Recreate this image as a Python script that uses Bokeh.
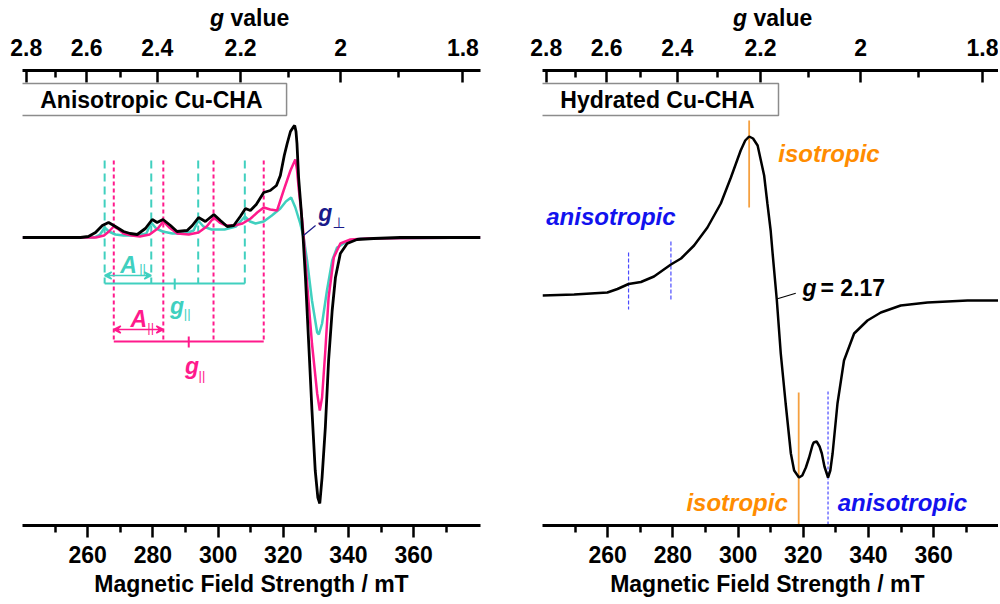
from bokeh.plotting import figure
from bokeh.models import (Range1d, LinearAxis, FixedTicker, CustomJSTickFormatter,
                          Label, Arrow, VeeHead, Div)
from bokeh.layouts import row, column
from bokeh.embed import file_html
from bokeh.resources import INLINE

FONT = "Liberation Sans"

# ---------------- data ----------------
freq_GHz = 9.45
g_const = 71.4477            # g * B[mT] = 71.4477 * nu[GHz]
hv_mT = g_const * freq_GHz

field_major = [260, 280, 300, 320, 340, 360]
field_minor = [250, 270, 290, 310, 330, 350, 370]
g_major = [2.8, 2.6, 2.4, 2.2, 2.0, 1.8]
g_minor = [2.7, 2.5, 2.3, 2.1, 1.9]

# Anisotropic Cu-CHA: experimental (black), simulated components (pink, teal)
black_B = [240, 257.8, 260.2, 262.4, 264.5, 266.4, 268.5, 271.0, 273.0, 275.2, 277.7, 279.8, 281.3,
           283.1, 285.4, 287.4, 290.5, 292.1, 294.0, 296.1, 298.7, 300.7, 302.8, 304.8, 306.8, 308.4,
           309.9, 311.7, 314.0, 316.0, 317.9, 319.1, 320.3, 321.2, 322.2, 323.0, 323.5, 323.9, 324.2,
           324.7, 325.5, 326.1, 326.8, 327.8, 328.8, 329.8, 330.6, 331.2, 331.9, 332.9, 333.9, 335.0,
           336.0, 337.5, 339.6, 342.6, 347.7, 355.9, 380.5]
black_I = [0, 0, 1, 5, 12, 15, 11, 6, 4, 3, 9, 18, 15,
           18, 12, 6, 7, 12, 20, 16, 23, 17, 11, 12, 21, 29,
           27, 33, 45, 47, 52, 62, 82, 94, 106, 110, 112, 106, 94,
           60, 27, -1, -40, -106, -173, -233, -260, -266, -240, -190, -123, -73,
           -40, -16, -6, -2, -1, 0, 0]

pink_B = [240, 262.5, 265.0, 266.5, 268.0, 269.5, 271.0, 273.5, 276.0, 279.0, 281.5, 283.2, 285.0,
          287.5, 291.0, 294.0, 296.5, 298.7, 300.5, 302.5, 305.0, 307.5, 310.0, 312.0, 314.0, 316.0,
          318.1, 320.1, 322.2, 323.0, 323.7, 324.2, 324.7, 325.8, 326.3, 327.3, 328.8, 330.4, 331.2,
          331.9, 332.9, 333.9, 335.5, 337.5, 340.6, 345.7, 380.5]
pink_I = [0, 0, 2, 6, 11, 8, 4, 2, 1, 3, 9, 16, 10,
          4, 3, 5, 11, 20, 15, 12, 12, 14, 19, 25, 30, 28,
          27, 47, 67, 73, 78, 68, 50, 17, -1, -46, -106, -156, -173,
          -160, -113, -60, -20, -6, -2, -1, 0]

teal_B = [240, 262.0, 263.8, 265.2, 266.5, 268.5, 271.0, 275.0, 278.0, 279.5, 281.0, 283.0, 286.0,
          290.0, 292.5, 293.9, 295.5, 298.0, 302.0, 305.5, 308.2, 309.8, 311.5, 314.0, 316.5, 319.1,
          320.8, 322.4, 323.7, 325.2, 326.3, 327.3, 328.8, 330.4, 330.9, 331.9, 333.4, 335.0, 336.5,
          339.6, 343.7, 380.5]
teal_I = [0, 0, 3, 10, 6, 3, 2, 2, 4, 15, 9, 6, 4,
          4, 7, 17, 11, 8, 8, 11, 21, 16, 14, 16, 22, 29,
          36, 40, 30, 14, -1, -23, -63, -95, -97, -86, -53, -23, -10,
          -4, -1, 0]

# hyperfine line positions (mT)
teal_lines = [265.2, 279.5, 293.9, 308.2]
pink_lines = [268.0, 283.2, 298.6, 314.0]

# Hydrated Cu-CHA
hyd_B = [240.0, 249.7, 259.9, 263.0, 266.4, 270.2, 274.2, 279.4, 282.5, 286.5,
         290.6, 294.7, 297.8, 300.8, 302.2, 303.4, 304.6, 306.0, 307.0, 308.0,
         309.0, 310.0, 310.6, 311.9, 313.1, 314.6, 316.2, 317.2, 318.7, 319.7,
         320.8, 321.8, 322.8, 323.2, 324.1, 325.0, 325.7, 326.5, 327.6, 328.3,
         329.0, 330.5, 332.5, 335.6, 339.7, 343.8, 349.9, 358.1, 370.4, 380.5]
hyd_I = [5, 6, 8, 11.5, 16.5, 18.5, 24, 36, 42, 55,
         73, 97, 123, 150, 160, 164, 162, 155, 140, 125,
         97, 70, 47, 0, -53, -103, -153, -170, -177, -175,
         -167, -157, -145, -142, -141, -146, -153, -166, -177, -170,
         -153, -103, -60, -33, -20, -12, -5, -2, 0, 0]

iso_fields = [303.4, 318.6]
aniso_fields = [266.4, 279.4, 327.6]

# ---------------- style ----------------
BLACK = "#000000"
PINK = "#ff1a8c"
TEAL = "#40d0bf"
NAVY = "#1a1a8a"
BLUE = "#1212ee"
BLUE_LINE = "#4a4aff"
ORANGE = "#ff8c00"
ORANGE_LINE = "#f5a040"


def style_axis(ax, top):
    ax.axis_line_width = 3
    ax.axis_line_color = "black"
    ax.major_tick_line_width = 2.5
    ax.minor_tick_line_width = 2.5
    ax.major_tick_line_color = "black"
    ax.minor_tick_line_color = "black"
    ax.major_label_text_font = FONT
    ax.major_label_text_font_size = "23px"
    ax.major_label_text_font_style = "bold"
    ax.major_label_text_color = "black"
    ax.axis_label_text_font = FONT
    ax.axis_label_text_font_size = "23px"
    ax.axis_label_text_font_style = "bold"
    ax.axis_label_text_color = "black"
    if top:
        ax.major_tick_in, ax.major_tick_out = 12, 0
        ax.minor_tick_in, ax.minor_tick_out = 7, 0
        ax.major_label_standoff = 15
    else:
        ax.major_tick_in, ax.major_tick_out = 0, 12
        ax.minor_tick_in, ax.minor_tick_out = 0, 7
        ax.major_label_standoff = 8
        ax.axis_label_standoff = 5


def txt(p, x, y, s, color="black", size="23px", style="bold", align="left",
        baseline="alphabetic", font=FONT, **kw):
    p.add_layout(Label(x=x, y=y, text=s, text_color=color, text_font_size=size,
                       text_font_style=style, text_align=align, text_baseline=baseline,
                       text_font=font, **kw))


HEAD_H = 30


def make_fig(width, bl, br, x1, y0, y1, xlabel):
    p = figure(width=width, height=604 - HEAD_H, x_range=Range1d(240, x1), y_range=Range1d(y0, y1),
               output_backend="svg", toolbar_location=None, y_axis_type=None,
               min_border_left=bl, min_border_right=br, min_border_top=70 - HEAD_H,
               min_border_bottom=79)
    p.grid.visible = False
    p.outline_line_color = None
    p.background_fill_color = "white"
    p.border_fill_color = None
    bx = p.xaxis[0]
    bx.ticker = FixedTicker(ticks=field_major, minor_ticks=field_minor)
    bx.axis_label = xlabel
    style_axis(bx, top=False)
    tx = LinearAxis(ticker=FixedTicker(ticks=[hv_mT / g for g in g_major],
                                       minor_ticks=[hv_mT / g for g in g_minor]),
                    formatter=CustomJSTickFormatter(args=dict(hv=hv_mT),
                                                    code="return String(Math.round(hv / tick * 10) / 10);"))
    style_axis(tx, top=True)
    p.add_layout(tx, "above")
    return p


def header(width, left):
    html = ('<div style="font-family:\'Liberation Sans\',Arial,sans-serif;font-weight:bold;'
            'font-size:23px;line-height:26px;color:black;white-space:nowrap;'
            'padding-top:5px;padding-left:%dpx;"><i>g</i> value</div>' % left)
    return Div(text=html, width=width, height=HEAD_H, margin=0)


def box_label(p, x, y, s):
    p.add_layout(Label(x=x, y=y, text=s, text_font=FONT, text_font_size="23px",
                       text_font_style="bold", text_align="center", text_baseline="middle",
                       text_color="black",
                       background_fill_color="white", border_line_color="#8c8c8c",
                       border_line_width=1.5,
                       padding=dict(left=23, right=24, top=3, bottom=3)))


# ---------------- left panel ----------------
p1 = make_fig(500, 22, 20, 380.5, -288, 167, "Magnetic Field Strength / mT")

# hyperfine markers
p1.segment(x0=teal_lines, y0=[77] * 4, x1=teal_lines, y1=[-46] * 4,
           line_color=TEAL, line_width=2, line_dash="8 5")
p1.segment(x0=pink_lines, y0=[77] * 4, x1=pink_lines, y1=[-104] * 4,
           line_color=PINK, line_width=2, line_dash="4 3")
p1.segment(x0=[teal_lines[0]], y0=[-46], x1=[teal_lines[-1]], y1=[-46], line_color=TEAL, line_width=2)
tc = (teal_lines[0] + teal_lines[-1]) / 2
p1.segment(x0=[tc], y0=[-41], x1=[tc], y1=[-52], line_color=TEAL, line_width=2)
p1.segment(x0=[pink_lines[0]], y0=[-104], x1=[pink_lines[-1]], y1=[-104], line_color=PINK, line_width=2)
pc = (pink_lines[0] + pink_lines[-1]) / 2
p1.segment(x0=[pc], y0=[-99], x1=[pc], y1=[-110], line_color=PINK, line_width=2)
for c, lines, yy in ((TEAL, teal_lines, -38), (PINK, pink_lines, -92)):
    p1.add_layout(Arrow(x_start=lines[0], y_start=yy, x_end=lines[1], y_end=yy,
                        line_color=c, line_width=1.5,
                        start=VeeHead(size=7, line_color=c, line_width=1.5, fill_color=c),
                        end=VeeHead(size=7, line_color=c, line_width=1.5, fill_color=c)))

# spectra
p1.line(teal_B, teal_I, line_color=TEAL, line_width=2.5)
p1.line(pink_B, pink_I, line_color=PINK, line_width=2.5)
p1.line(black_B, black_I, line_color=BLACK, line_width=2.8)

# labels
txt(p1, 272.5, -27, "A", color=TEAL, style="bold italic", align="center")
txt(p1, 275.8, -31, "||", color=TEAL, size="13px", style="normal")
txt(p1, 287.4, -68, "g", color=TEAL, style="bold italic", align="center")
txt(p1, 289.5, -76, "||", color=TEAL, size="13px", style="normal")
txt(p1, 275.7, -81, "A", color=PINK, style="bold italic", align="center")
txt(p1, 278.3, -90, "||", color=PINK, size="13px", style="normal")
txt(p1, 292.0, -128, "g", color=PINK, style="bold italic", align="center")
txt(p1, 294.0, -138, "||", color=PINK, size="13px", style="normal")
txt(p1, 332.9, 25, "g", color=NAVY, style="bold italic", align="center")
txt(p1, 335.0, 15, "\u22a5", color=NAVY, size="15px", style="normal", font="DejaVu Sans")
p1.segment(x0=[326.2], y0=[2], x1=[329.9], y1=[12], line_color=NAVY, line_width=1.2)

box_label(p1, 279.7, 138, "Anisotropic Cu-CHA")

# ---------------- right panel ----------------
p2 = make_fig(498, 42, 0, 379.9, -225, 230, "Magnetic Field Strength  / mT")

p2.segment(x0=[iso_fields[0]], y0=[180], x1=[iso_fields[0]], y1=[93],
           line_color=ORANGE_LINE, line_width=1.8)
p2.segment(x0=[iso_fields[1]], y0=[-92], x1=[iso_fields[1]], y1=[-225],
           line_color=ORANGE_LINE, line_width=1.8)
p2.segment(x0=aniso_fields[:2], y0=[48, 59], x1=aniso_fields[:2], y1=[-9, 1],
           line_color=BLUE_LINE, line_width=1.2, line_dash="4 2")
p2.segment(x0=[aniso_fields[2]], y0=[-91], x1=[aniso_fields[2]], y1=[-225],
           line_color=BLUE_LINE, line_width=1.2, line_dash="3 2")

p2.line(hyd_B, hyd_I, line_color=BLACK, line_width=2.5)

txt(p2, 261.0, 84, "anisotropic", color=BLUE, size="24px", style="bold italic", align="center")
txt(p2, 327.9, 147, "isotropic", color=ORANGE, size="24px", style="bold italic", align="center")
txt(p2, 299.7, -202, "isotropic", color=ORANGE, size="24px", style="bold italic", align="center")
txt(p2, 350.4, -202, "anisotropic", color=BLUE, size="24px", style="bold italic", align="center")
txt(p2, 319.8, 13, "g", style="bold italic")
txt(p2, 325.3, 13, "= 2.17")
p2.segment(x0=[312.1], y0=[1.7], x1=[317.7], y1=[7.3], line_color=BLACK, line_width=1.2)

box_label(p2, 275.4, 201, "Hydrated Cu-CHA")

layout = column(row(header(500, 210), header(498, 233)), row(p1, p2))
open("out.html", "w").write(file_html(layout, INLINE))
